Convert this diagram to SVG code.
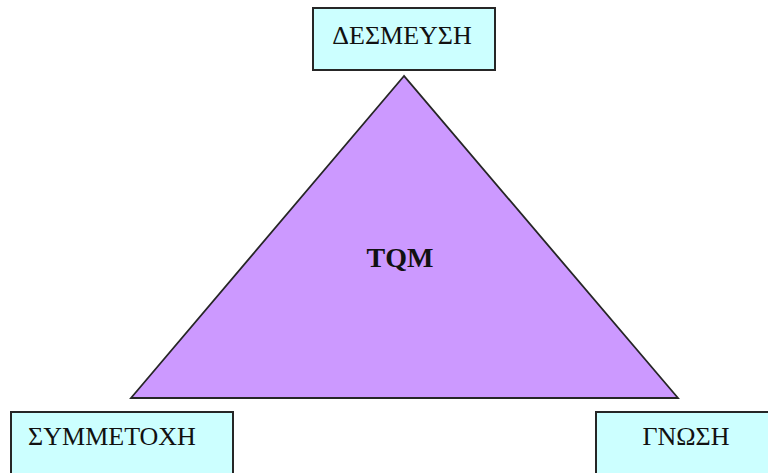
<svg xmlns="http://www.w3.org/2000/svg" width="768" height="473" viewBox="0 0 768 473">
  <style>
    .box { fill: #ccffff; stroke: #262626; stroke-width: 2; }
    .lbl { font-family: "Liberation Serif", "Times New Roman", serif; font-size: 26px; fill: #111; text-anchor: middle; }
    .tri { fill: #cc99ff; stroke: #262626; stroke-width: 1.8; stroke-linejoin: miter; }
    .core { font-family: "Liberation Serif", "Times New Roman", serif; font-size: 28px; font-weight: bold; fill: #111; text-anchor: middle; }
  </style>
  <rect width="768" height="473" fill="#ffffff"/>
  <g id="tqm">
    <polygon class="tri" points="404,76 131,398 678,398"/>
    <text class="core" x="400" y="267">TQM</text>
  </g>
  <g id="desmeusi">
    <rect class="box" x="313" y="8" width="182" height="62"/>
    <text class="lbl" x="402" y="44">ΔΕΣΜΕΥΣΗ</text>
  </g>
  <g id="symmetoxi">
    <rect class="box" x="11" y="412" width="222" height="70"/>
    <text class="lbl" x="112" y="445">ΣΥΜΜΕΤΟΧΗ</text>
  </g>
  <g id="gnosi">
    <rect class="box" x="596" y="412" width="180" height="70"/>
    <text class="lbl" x="686" y="445">ΓΝΩΣΗ</text>
  </g>
</svg>
